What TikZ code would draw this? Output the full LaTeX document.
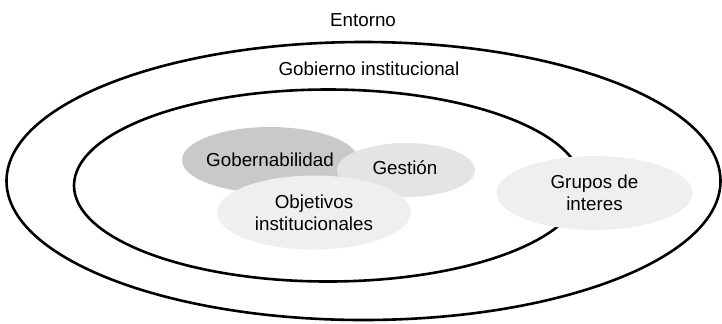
\documentclass[tikz,border=0pt]{standalone}
\usepackage{fontspec}
\setmainfont{Liberation Sans}
\usetikzlibrary{shapes.geometric}
\definecolor{gobgris}{RGB}{201,201,201}
\definecolor{gesgris}{RGB}{228,228,228}
\definecolor{objgris}{RGB}{239,239,240}
\tikzset{
  anillo/.style={ellipse, draw, line width=1.3pt, inner sep=0pt},
  burbuja/.style={ellipse, inner sep=0pt, align=center, font=\fontsize{9.4}{11}\selectfont},
  rotulo/.style={font=\fontsize{9.4}{11}\selectfont}
}
\begin{document}
\begin{tikzpicture}[x=0.5pt, y=-0.5pt]
	\useasboundingbox (0,0) rectangle (722,323);
	\node [anillo, minimum width=357pt, minimum height=139pt] (entorno) at (363.5,181) {};
	\node [anillo, minimum width=254pt, minimum height=96pt] (gobierno) at (328,185.5) {};
	\node [rotulo] (tentorno) at (363,20) {Entorno};
	\node [rotulo] (tgobierno) at (369,69) {Gobierno institucional};
	\node [burbuja, fill=gobgris, minimum width=88pt, minimum height=33pt] (gobernabilidad) at (270,160) {};
	\node [burbuja, fill=gesgris, minimum width=69pt, minimum height=27pt] (gestion) at (406,170) {};
	\node [burbuja, fill=objgris, minimum width=97pt, minimum height=37pt] (objetivos) at (314,212.5) {Objetivos\\institucionales};
	\node [burbuja, fill=objgris, minimum width=98pt, minimum height=37pt] (grupos) at (594.5,193) {Grupos de\\interes};
	\node [rotulo] (tgobernabilidad) at (gobernabilidad.center) {Gobernabilidad};
	\node [rotulo] (tgestion) at (405,168) {Gestión};
\end{tikzpicture}
\end{document}
